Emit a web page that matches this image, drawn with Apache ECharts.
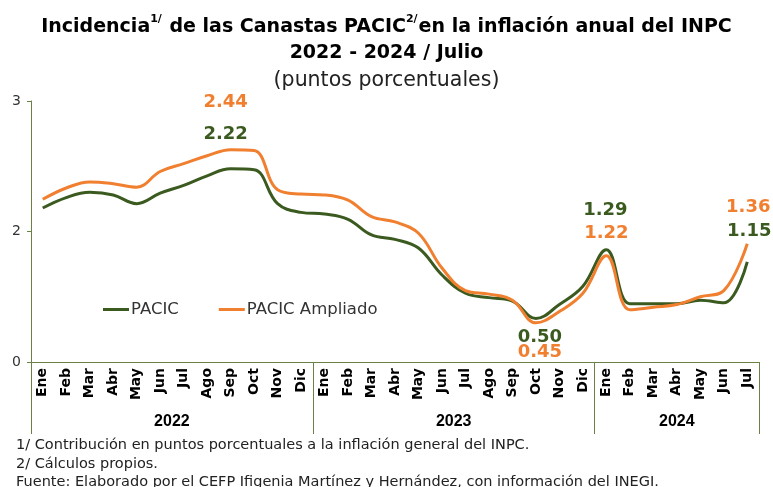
<!DOCTYPE html>
<html>
<head>
<meta charset="utf-8">
<script src="https://cdn.jsdelivr.net/npm/echarts@6/dist/echarts.min.js"></script>
<style>
	html, body { margin: 0; padding: 0; background: #fff; }
	#chart { width: 773px; height: 487px; }
</style>
</head>
<body>
<div id="chart"></div>
<script>
// meses del eje (2022 Ene - 2024 Jul)
const months = ['Ene', 'Feb', 'Mar', 'Abr', 'May', 'Jun', 'Jul', 'Ago', 'Sep', 'Oct', 'Nov', 'Dic',
	'Ene', 'Feb', 'Mar', 'Abr', 'May', 'Jun', 'Jul', 'Ago', 'Sep', 'Oct', 'Nov', 'Dic',
	'Ene', 'Feb', 'Mar', 'Abr', 'May', 'Jun', 'Jul'];
const years = ['2022', '2023', '2024'];
const monthsPerYear = [12, 12, 7];

const pacic = [1.77, 1.89, 1.95, 1.92, 1.82, 1.94, 2.03, 2.14, 2.22, 2.21, 1.82, 1.72,
	1.70, 1.64, 1.46, 1.41, 1.31, 1.00, 0.79, 0.74, 0.70, 0.50, 0.66, 0.87,
	1.29, 0.67, 0.67, 0.67, 0.71, 0.68, 1.15];
const ampliado = [1.87, 2.00, 2.07, 2.05, 2.01, 2.19, 2.28, 2.37, 2.44, 2.43, 1.98, 1.93,
	1.92, 1.86, 1.67, 1.61, 1.48, 1.08, 0.82, 0.78, 0.71, 0.45, 0.58, 0.79,
	1.22, 0.60, 0.63, 0.66, 0.75, 0.82, 1.36];

// puntos con etiqueta
const labelIdx = [8, 21, 24, 30];

const green = '#3b5a1f';
const orange = '#f07f30';
const axisColor = '#6b8247';

// limites de cada año sobre el eje
var bounds = [0];
monthsPerYear.forEach(function (n) { bounds.push(bounds[bounds.length - 1] + n); });
var yearMid = years.map(function (y, i) { return (bounds[i] + bounds[i + 1]) / 2; });

function withLabels(values, color, offsets) {
	return values.map(function (v, i) {
		var k = labelIdx.indexOf(i);
		if (k < 0) return v;
		return {
			value: v,
			label: {
				show: true,
				position: 'top',
				offset: offsets[k],
				color: color,
				fontFamily: 'DejaVu Sans',
				fontWeight: 'bold',
				fontSize: 18,
				formatter: function (p) { return p.value.toFixed(2); }
			}
		};
	});
}

var dom = document.getElementById('chart');
var myChart = echarts.init(dom, null, { renderer: 'canvas' });

var option = {
	animation: false,
	backgroundColor: '#fff',
	title: [
		{
			left: 'center',
			top: 9,
			text: '{b|Incidencia}{s|1/}{b| de las Canastas PACIC}{s|2/}{b|en la inflación anual del INPC}',
			textStyle: {
				rich: {
					b: { fontFamily: 'DejaVu Sans', fontWeight: 'bold', fontSize: 19, color: '#000', lineHeight: 26 },
					s: { fontFamily: 'DejaVu Sans', fontSize: 11, color: '#000', lineHeight: 26, verticalAlign: 'top', padding: [0, 1, 8, 0] }
				}
			}
		},
		{
			left: 'center',
			top: 39,
			text: '2022 - 2024 / Julio',
			textStyle: { fontFamily: 'DejaVu Sans', fontWeight: 'bold', fontSize: 19, color: '#000' }
		},
		{
			left: 'center',
			top: 65,
			text: '(puntos porcentuales)',
			textStyle: { fontFamily: 'DejaVu Sans', fontWeight: 'normal', fontSize: 20.5, color: '#222' }
		},
		{
			left: 11,
			top: 431,
			text: '1/ Contribución en puntos porcentuales a la inflación general del INPC.\n2/ Cálculos propios.\nFuente: Elaborado por el CEFP Ifigenia Martínez y Hernández, con información del INEGI.',
			textStyle: { fontFamily: 'DejaVu Sans', fontWeight: 'normal', fontSize: 14.5, lineHeight: 18.5, color: '#222' }
		}
	],
	legend: {
		left: 98,
		top: 296,
		itemWidth: 26,
		itemHeight: 3,
		itemGap: 40,
		icon: 'rect',
		textStyle: { fontFamily: 'DejaVu Sans', fontSize: 16.5, color: '#333', padding: [0, 0, 0, -3] },
		data: ['PACIC', 'PACIC Ampliado']
	},
	grid: {
		left: 31,
		right: 14,
		top: 101,
		bottom: 125
	},
	xAxis: [
		{
			type: 'category',
			data: months,
			boundaryGap: true,
			axisLine: { show: true, lineStyle: { color: axisColor, width: 1 } },
			axisTick: { show: false },
			axisLabel: {
				interval: 0,
				rotate: 90,
				margin: 6,
				color: '#000',
				fontFamily: 'DejaVu Sans',
				fontWeight: 'bold',
				fontSize: 14
			},
			splitLine: { show: false }
		},
		{
			type: 'value',
			position: 'bottom',
			min: 0,
			max: bounds[bounds.length - 1],
			axisLine: { show: false },
			axisTick: {
				show: true,
				customValues: bounds,
				length: 72,
				lineStyle: { color: axisColor, width: 1 }
			},
			axisLabel: {
				customValues: yearMid,
				margin: 52,
				color: '#000',
				fontFamily: 'Liberation Sans',
				fontWeight: 'bold',
				fontSize: 16,
				formatter: function (v) {
					var k = yearMid.indexOf(v);
					return k >= 0 ? years[k] : '';
				}
			},
			splitLine: { show: false }
		}
	],
	yAxis: {
		type: 'value',
		min: 0,
		max: 3,
		interval: 1.5,
		axisLine: { show: true, lineStyle: { color: axisColor, width: 1 } },
		axisTick: { show: true, length: 4, lineStyle: { color: axisColor } },
		axisLabel: {
			margin: 10,
			color: '#333',
			fontFamily: 'DejaVu Sans',
			fontSize: 14,
			formatter: function (v) { return String(Math.round(v)); }
		},
		splitLine: { show: false }
	},
	series: [
		{
			name: 'PACIC',
			type: 'line',
			xAxisIndex: 0,
			smooth: 0.4,
			symbol: 'circle',
			symbolSize: 0,
			showSymbol: true,
			showAllSymbol: true,
			color: green,
			lineStyle: { color: green, width: 3 },
			emphasis: { disabled: true },
			data: withLabels(pacic, green, [[-5, -21], [4, 33], [-1, -25], [2, -17]])
		},
		{
			name: 'PACIC Ampliado',
			type: 'line',
			xAxisIndex: 0,
			smooth: 0.4,
			symbol: 'circle',
			symbolSize: 0,
			showSymbol: true,
			showAllSymbol: true,
			color: orange,
			lineStyle: { color: orange, width: 3 },
			emphasis: { disabled: true },
			data: withLabels(ampliado, orange, [[-5, -33], [4, 43], [0, -9], [1, -22]])
		}
	]
};

if (option && typeof option === 'object') {
	myChart.setOption(option);
}

window.addEventListener('resize', myChart.resize);
</script>
</body>
</html>
